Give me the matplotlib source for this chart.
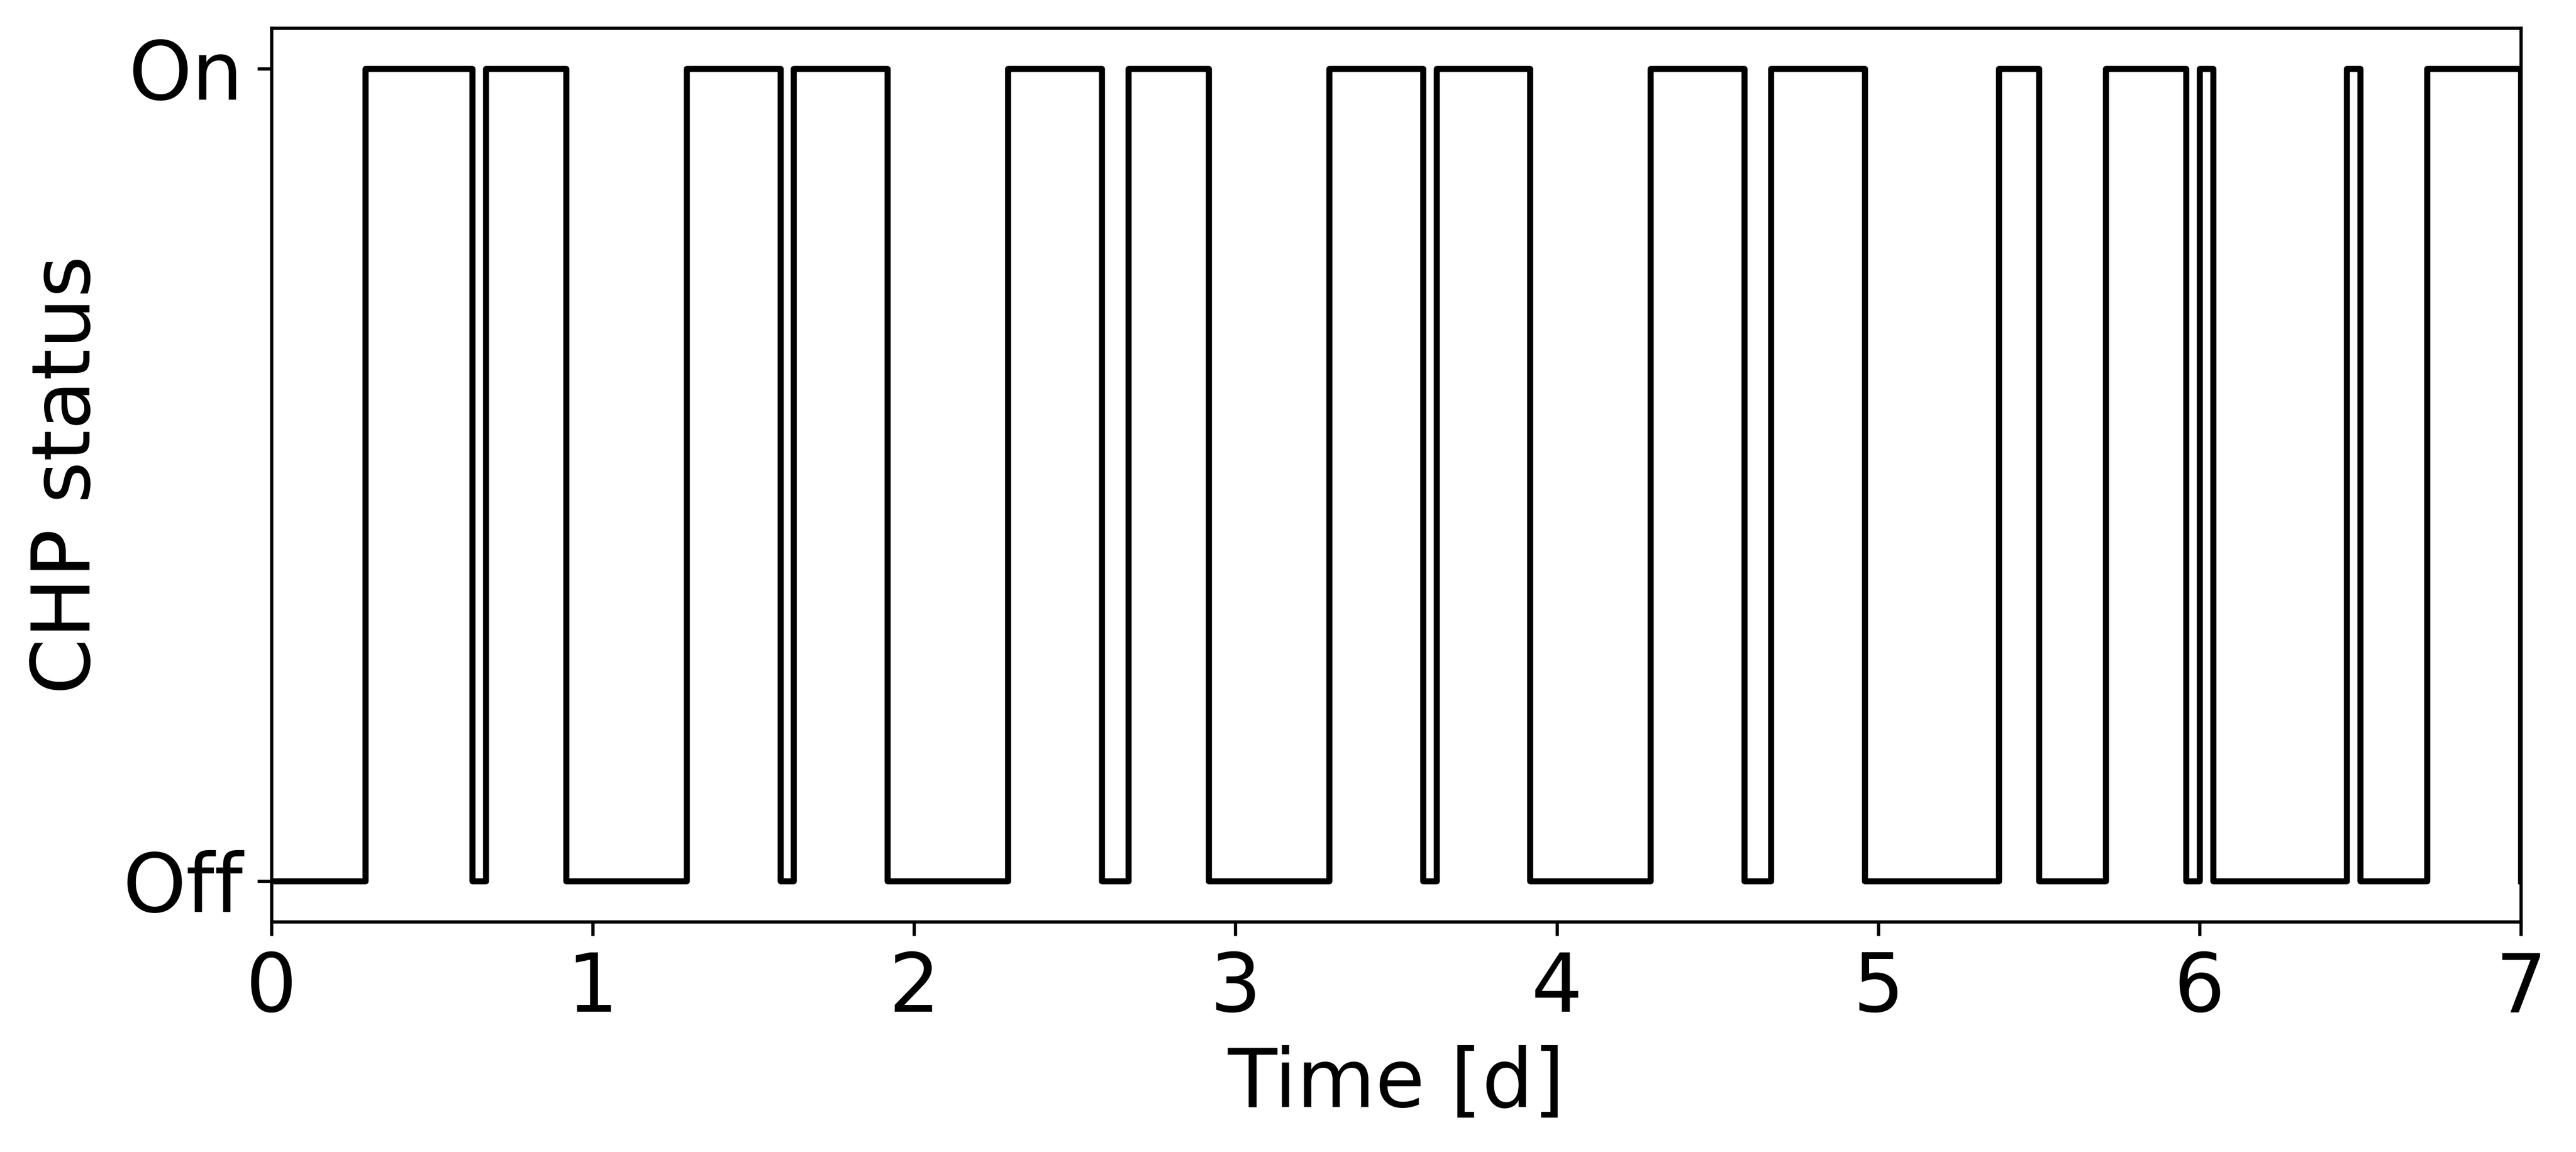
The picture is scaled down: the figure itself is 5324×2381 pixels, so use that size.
import numpy as np
import matplotlib
matplotlib.use("Agg")
import matplotlib.pyplot as plt

# Hours at which the CHP switches on / off (hourly resolution, one week)
on_hours = [7, 16, 31, 39, 55, 64, 79, 87, 103, 112, 129, 137, 144, 155, 161]
off_hours = [15, 22, 38, 46, 62, 70, 86, 94, 110, 119, 132, 143, 145, 156, 168]
ytick_labels = ["Off", "On"]
xticks = [0, 1, 2, 3, 4, 5, 6, 7]

# Build step series (time in days)
t = [0.0]
s = [0]
for a, b in zip(on_hours, off_hours):
    t += [a / 24.0, b / 24.0]
    s += [1, 0]
t = np.array(t)
s = np.array(s)

W, H, DPI = 5324, 2381, 600
fig = plt.figure(figsize=(W / DPI, H / DPI), dpi=DPI)
ax = fig.add_axes([561 / W, 1 - 1905 / H, (5210 - 561) / W, (1905 - 58) / H])

ax.plot(t, s, drawstyle="steps-post", color="black", linewidth=1.5)

ax.set_xlim(0, 7)
ax.set_ylim(-0.05, 1.05)
ax.set_xticks(xticks)
ax.set_yticks([0, 1])
ax.set_yticklabels(ytick_labels)
ax.tick_params(labelsize=20)
ax.set_xlabel("Time [d]", fontsize=20)
ax.set_ylabel("CHP status", fontsize=20)

fig.savefig("out.png", dpi=DPI)
